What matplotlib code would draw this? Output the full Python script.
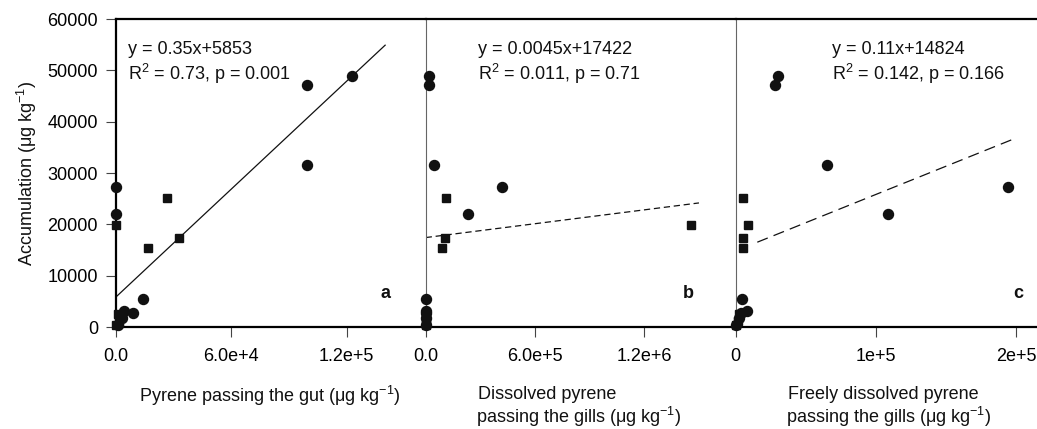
import numpy as np
import matplotlib.pyplot as plt

plt.rcParams['font.family'] = ['Liberation Sans', 'DejaVu Sans']
plt.rcParams['mathtext.fontset'] = 'custom'
plt.rcParams['mathtext.rm'] = 'Liberation Sans'
plt.rcParams['mathtext.default'] = 'regular'
plt.rcParams['font.size'] = 13

# Accumulation (y) shared by all three panels
acc_circ = [48900, 47150, 31500, 27200, 22000, 5500, 3200, 2650, 1800, 400]
acc_sq = [25200, 19800, 17250, 15300, 2500, 1200, 300]

# x values per panel
gut_circ = [122600, 99500, 99100, 0, 0, 13900, 4200, 9000, 3000, 1200]
gut_sq = [26400, 0, 33000, 16500, 800, 1500, 0]

gill_circ = [18000, 18000, 44000, 417000, 230000, 0, 3000, 2000, 1500, 0]
gill_sq = [113000, 1455000, 104000, 91500, 1000, 0, 0]

free_circ = [30150, 28200, 65300, 194100, 108800, 4700, 7800, 4000, 2500, 500]
free_sq = [5400, 8800, 5400, 5000, 2500, 1500, 300]

# fitted lines (end points)
fit_a = ([0, 140000], [5853, 54900])
fit_b = ([0, 1500000], [17422, 24170])
fit_c = ([15400, 199000], [16520, 36710])

eqs = ['y = 0.35x+5853\nR$^2$ = 0.73, p = 0.001',
       'y = 0.0045x+17422\nR$^2$ = 0.011, p = 0.71',
       'y = 0.11x+14824\nR$^2$ = 0.142, p = 0.166']
letters = ['a', 'b', 'c']
xticks = [[0, 60000, 120000], [0, 600000, 1200000], [0, 100000, 200000]]
xticklabels = [['0.0', '6.0e+4', '1.2e+5'], ['0.0', '6.0e+5', '1.2e+6'], ['0', '1e+5', '2e+5']]
xmax = [161100, 1701700, 214900]

fig = plt.figure(figsize=(10.37, 4.29), dpi=100)
W, H = 1037, 429
bottom = 1 - 327 / H
height = 308 / H
lefts = [116, 425.7, 735.7]
rights = [425.7, 735.7, 1037]
axes = [fig.add_axes([lefts[i] / W, bottom, (rights[i] - lefts[i]) / W, height]) for i in range(3)]

xs_circ = [gut_circ, gill_circ, free_circ]
xs_sq = [gut_sq, gill_sq, free_sq]
fits = [fit_a, fit_b, fit_c]
styles = ['-', (0, (5, 3)), (0, (9, 5))]
eq_x = [0.039, 0.168, 0.319]
let_x = [0.869, 0.848, 0.937]

for i, ax in enumerate(axes):
    ax.plot(fits[i][0], fits[i][1], color='#111111', lw=0.9, linestyle=styles[i])
    ax.plot(xs_circ[i], acc_circ, 'o', color='#111111', ms=7.2, clip_on=False, zorder=3)
    ax.plot(xs_sq[i], acc_sq, 's', color='#111111', ms=5.8, clip_on=False, zorder=3)
    ax.set_xlim(0, xmax[i])
    ax.set_ylim(0, 60000)
    ax.set_xticks(xticks[i])
    ax.set_xticklabels(xticklabels[i])
    ax.tick_params(axis='x', direction='out', length=7, width=0.8, color='#444444', pad=8)
    ax.text(eq_x[i], 0.93, eqs[i], transform=ax.transAxes, va='top', ha='left',
            linespacing=1.25, color='#111111')
    ax.text(let_x[i], 0.11, letters[i], transform=ax.transAxes, va='center', ha='center',
            fontweight='bold', color='#111111')
    ax.spines['right'].set_visible(False)
    ax.spines['top'].set_linewidth(1.6)
    ax.spines['bottom'].set_linewidth(1.6)
    if i == 0:
        ax.spines['left'].set_linewidth(1.6)
        ax.set_yticks(np.arange(0, 60001, 10000))
        ax.tick_params(axis='y', direction='out', length=7, width=0.8, color='#444444', pad=6)
        ax.set_ylabel('Accumulation (μg kg$^{-1}$)', labelpad=6, color='#111111')
    else:
        ax.spines['left'].set_linewidth(0.8)
        ax.spines['left'].set_color('#666666')
        ax.set_yticks([])

# x axis labels
fig.text(270 / W, 1 - 401.7 / H, 'Pyrene passing the gut (μg kg$^{-1}$)',
         ha='center', va='baseline', color='#111111')
fig.text(478 / W, 1 - 399.3 / H, 'Dissolved pyrene', ha='left', va='baseline', color='#111111')
fig.text(476 / W, 1 - 423.3 / H, 'passing the gills (μg kg$^{-1}$)', ha='left', va='baseline', color='#111111')
fig.text(788 / W, 1 - 399.3 / H, 'Freely dissolved pyrene', ha='left', va='baseline', color='#111111')
fig.text(786 / W, 1 - 423.3 / H, 'passing the gills (μg kg$^{-1}$)', ha='left', va='baseline', color='#111111')

fig.savefig('out.png', dpi=100)
